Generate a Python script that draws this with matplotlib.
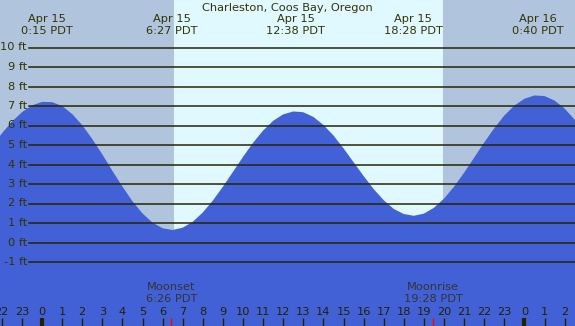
import numpy as np
import matplotlib.pyplot as plt
from matplotlib.transforms import blended_transform_factory

# tide heights (ft), read every half hour from 22:30 Apr 14 to 03:00 Apr 16
hours = np.arange(-2.5, 27.01, 0.5)
heights = [
    4.90, 5.59, 6.19, 6.68, 7.03, 7.21, 7.20, 7.00, 6.59, 6.02,
    5.31, 4.52, 3.68, 2.87, 2.12, 1.49, 1.02, 0.73, 0.64, 0.76,
    1.06, 1.54, 2.15, 2.86, 3.62, 4.39, 5.11, 5.74, 6.24, 6.57,
    6.72, 6.68, 6.44, 6.03, 5.49, 4.83, 4.12, 3.41, 2.74, 2.17,
    1.72, 1.46, 1.37, 1.48, 1.78, 2.25, 2.86, 3.58, 4.35, 5.13,
    5.86, 6.51, 7.02, 7.37, 7.54, 7.51, 7.28, 6.87, 6.30, 5.61,
]

# high / low tide labels along the top
extreme_hours = [0.25, 6.45, 12.63, 18.47, 24.67]
extreme_dates = ["Apr 15", "Apr 15", "Apr 15", "Apr 15", "Apr 16"]
extreme_times = ["0:15 PDT", "6:27 PDT", "12:38 PDT", "18:28 PDT", "0:40 PDT"]

sunrise, sunset = 6.55, 19.95
moon_hours = [6.43, 19.47]
moon_names = ["Moonset", "Moonrise"]
moon_times = ["6:26 PDT", "19:28 PDT"]

ft_levels = list(range(-1, 11))
hour_ticks = list(range(-2, 27))

NIGHT = "#b0c4de"
DAY = "#e0f8ff"
WATER = "#4361d6"
INK = "#333300"

W, H = 575, 326


def main():
    plt.rcParams["font.family"] = "DejaVu Sans"
    fig = plt.figure(figsize=(W / 100, H / 100), dpi=100)
    ax = fig.add_axes([0, 0, 1, 1])
    ax.set_axis_off()

    x_left, x_right = -42 / 20.1, (W - 42) / 20.1
    y_top, y_bottom = 242.5 / 19.5, -(H - 242.5) / 19.5
    ax.set_xlim(x_left, x_right)
    ax.set_ylim(y_bottom, y_top)
    fig.patch.set_facecolor(NIGHT)

    ax.axvspan(sunrise, sunset, color=DAY, lw=0, zorder=1)
    ax.fill_between(hours, heights, y_bottom, color=WATER, lw=0, zorder=2)

    ylab = blended_transform_factory(ax.transAxes, ax.transData)
    for lvl in ft_levels:
        ax.axhline(lvl, xmin=29 / W, xmax=1, color="#262600", lw=1.1, zorder=3)
        ax.text(27 / W, lvl, f"{lvl} ft", transform=ylab, ha="right",
                va="center", fontsize=8.2, color=INK, zorder=4)

    # pixel rows measured from the top of the image
    def py(v):
        return 1 - v / H

    xtop = blended_transform_factory(ax.transData, ax.transAxes)
    ax.text(0.5, py(8), "Charleston, Coos Bay, Oregon", transform=ax.transAxes,
            ha="center", va="center", fontsize=8.2, color=INK)
    for h, d, t in zip(extreme_hours, extreme_dates, extreme_times):
        ax.text(h, py(19), d, transform=xtop, ha="center", va="center",
                fontsize=8.2, color=INK)
        ax.text(h, py(31), t, transform=xtop, ha="center", va="center",
                fontsize=8.2, color=INK)

    for h, n, t in zip(moon_hours, moon_names, moon_times):
        ax.text(h, py(287), n, transform=xtop, ha="center", va="center",
                fontsize=8.2, color="#333333")
        ax.text(h, py(299), t, transform=xtop, ha="center", va="center",
                fontsize=8.2, color="#333333")
        ax.plot([h, h], [py(318), 0], transform=xtop,
                color="red", lw=1, solid_capstyle="butt", zorder=6)

    for h in hour_ticks:
        midnight = h % 24 == 0
        ax.plot([h, h], [py(318), 0], transform=xtop, color="#222200",
                lw=3 if midnight else 1, solid_capstyle="butt", zorder=5)
        ax.text(h, py(312), str(h % 24), transform=xtop, ha="center",
                va="center", fontsize=8.2, color="#222200")

    fig.savefig("out.png", dpi=100, facecolor=fig.get_facecolor())
    plt.close(fig)


if __name__ == "__main__":
    main()
